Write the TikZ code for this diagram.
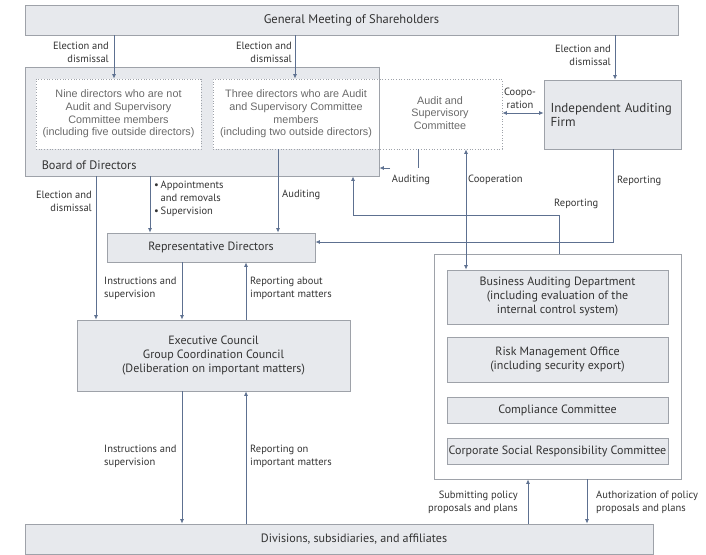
\documentclass[tikz,border=0pt]{standalone}
\usepackage{fontspec}
\setmainfont{PT Sans}
\newfontfamily\thinfont{Liberation Sans}
\usetikzlibrary{arrows.meta}

\definecolor{boxfill}{HTML}{E7E9ED}
\definecolor{boxline}{HTML}{9EA2A9}
\definecolor{arrcol}{HTML}{5D7090}
\definecolor{txtcol}{HTML}{333333}
\definecolor{thintxt}{HTML}{6A6A6A}

\tikzset{
  box/.style={draw=boxline,fill=boxfill,line width=0.8pt,inner sep=0pt,
    text=txtcol,font=\fontsize{12}{14}\selectfont,align=center},
  dotbox/.style={draw=boxline,dotted,line width=0.7pt,fill=white,inner sep=0pt,
    text=thintxt,font=\thinfont\fontsize{10.8}{12.7}\selectfont,align=center},
  lbl/.style={text=txtcol,font=\fontsize{10.5}{12.8}\selectfont,inner sep=0pt},
  arr/.style={draw=arrcol,line width=0.8pt,-{Latex[length=4.5pt,width=4pt]}},
  arrb/.style={draw=arrcol,line width=0.8pt,{Latex[length=4.5pt,width=4pt]}-{Latex[length=4.5pt,width=4pt]}},
  ln/.style={draw=arrcol,line width=0.8pt}
}

\begin{document}
\begin{tikzpicture}[x=1pt,y=-1pt]

        \useasboundingbox (0,0) rectangle (706,554);

        % boxes
        \node[box,minimum width=653pt,minimum height=30pt,font=\fontsize{12.5}{14}\selectfont] (gm) at (351.5,20) {General Meeting of Shareholders};
        \node[box,minimum width=354pt,minimum height=109pt,
          label={[lbl,font=\fontsize{12.3}{14}\selectfont,anchor=south west,xshift=17pt,yshift=7pt]south west:Board of Directors}] (board) at (202,121.5) {};
        \node[dotbox,minimum width=165pt,minimum height=70pt] (nine) at (118.5,114)
          {Nine directors who are not\\Audit and Supervisory\\Committee members\\(including five outside directors)};
        \node[dotbox,draw=none,minimum width=166pt,minimum height=70pt] (three) at (296,114)
          {Three directors who are Audit\\and Supervisory Committee\\members\\(including two outside directors)};
        \draw[boxline,line width=0.8pt] (board.north east) -- (board.south east);
        \node[dotbox,fill=none,minimum width=289pt,minimum height=70pt] (acm) at (357.5,114) {};
        \node[text=thintxt,font=\thinfont\fontsize{10.8}{12.5}\selectfont,align=center] (acmtxt) at (440,113)
          {Audit and\\Supervisory\\Committee};
        \node[box,minimum width=137pt,minimum height=69pt,align=left,text width=124pt] (iaf) at (612.5,114.5)
          {\fontsize{13}{17}\selectfont Independent Auditing\\Firm};

        \node[box,minimum width=208pt,minimum height=29pt] (rep) at (211,247.5) {Representative Directors};
        \node[box,minimum width=273pt,minimum height=71pt] (exec) at (213.5,355.5)
          {Executive Council\\Group Coordination Council\\(Deliberation on important matters)};

        \node[draw=boxline,line width=0.8pt,fill=white,minimum width=247pt,minimum height=225pt] (grp) at (557.5,366.5) {};
        \node[box,minimum width=221pt,minimum height=54pt] (bad) at (557.5,297)
          {Business Auditing Department\\(including evaluation of the\\internal control system)};
        \node[box,minimum width=221pt,minimum height=45pt] (rmo) at (557.5,359.5)
          {Risk Management Office\\(including security export)};
        \node[box,minimum width=221pt,minimum height=26pt] (cc) at (557.5,410) {Compliance Committee};
        \node[box,minimum width=221pt,minimum height=26pt] (csr) at (557.5,451) {Corporate Social Responsibility Committee};

        \node[box,minimum width=628pt,minimum height=30pt,
          label={[text=txtcol,font=\fontsize{12.1}{14}\selectfont,xshift=15pt]center:Divisions, subsidiaries, and affiliates}] (div) at (339,539) {};

        % connectors
        \draw[arr] (114,0 |- gm.south) -- (114,0 |- nine.north);
        \draw[arr] (295,0 |- gm.south) -- (295,0 |- three.north);
        \draw[arr] (615,0 |- gm.south) -- (615,0 |- iaf.north);
        \draw[arrb] (acm.east |- 0,113) -- (iaf.west |- 0,113);

        \draw[arr] (96,0 |- board.south) -- (96,0 |- exec.north);
        \draw[arr] (150,0 |- board.south) -- (150,0 |- rep.north);
        \draw[arr] (278,0 |- three.south) -- (278,0 |- rep.north);

        \coordinate (audend) at (418,168);
        \coordinate (audtip) at (390,168);
        \draw[ln] (418,0 |- acm.south) -- (audend);
        \draw[arr] (audtip) -- (board.east |- audtip);
        \draw[arrb] (466,0 |- acm.south) -- (466,0 |- bad.north);

        \coordinate (iafbend) at (613,242);
        \draw[arr] (613,0 |- iaf.south) -- (iafbend) -- (rep.east |- iafbend);
        \coordinate (grpbend) at (559,215);
        \coordinate (brdbend) at (353,215);
        \draw[arr] (559,0 |- grp.north) -- (grpbend) -- (brdbend) -- (353,0 |- board.south);

        \draw[arr] (182,0 |- rep.south) -- (182,0 |- exec.north);
        \draw[arr] (246,0 |- exec.north) -- (246,0 |- rep.south);
        \draw[arr] (182,0 |- exec.south) -- (182,0 |- div.north);
        \draw[arr] (246,0 |- div.north) -- (246,0 |- exec.south);
        \draw[arr] (528,0 |- div.north) -- (528,0 |- grp.south);
        \draw[arr] (587,0 |- grp.south) -- (587,0 |- div.north);

        % labels
        \node[lbl,align=right,anchor=east] (l1) at (109,52) {Election and\\dismissal};
        \node[lbl,align=right,anchor=east] (l2) at (292,52) {Election and\\dismissal};
        \node[lbl,align=right,anchor=east] (l3) at (611,55) {Election and\\dismissal};
        \node[lbl,align=center] (l4) at (520,98) {Coopo-\\ration};
        \node[lbl,align=right,anchor=east] (l5) at (92,201) {Election and\\dismissal};
        \node[lbl,align=left,anchor=west] (l6) at (154,199)
          {\textbullet\,Appointments\\\hphantom{\textbullet\,}and removals\\\textbullet\,Supervision};
        \node[lbl,anchor=west] (l7) at (282,195) {Auditing};
        \node[lbl] (l8) at (411,180) {Auditing};
        \node[lbl,anchor=west] (l9) at (468,180) {Cooperation};
        \node[lbl,anchor=west] (l10) at (617,181) {Reporting};
        \node[lbl,anchor=west] (l11) at (554,204) {Reporting};
        \node[lbl,align=left,anchor=west] (l12) at (104,288) {Instructions and\\supervision};
        \node[lbl,align=left,anchor=west] (l13) at (250,288) {Reporting about\\important matters};
        \node[lbl,align=left,anchor=west] (l14) at (104,456) {Instructions and\\supervision};
        \node[lbl,align=left,anchor=west] (l15) at (250,456) {Reporting on\\important matters};
        \node[lbl,align=right,anchor=east] (l16) at (518,502) {Submitting policy\\proposals and plans};
        \node[lbl,align=left,anchor=west] (l17) at (596,502) {Authorization of policy\\proposals and plans};

    \end{tikzpicture}
\end{document}
